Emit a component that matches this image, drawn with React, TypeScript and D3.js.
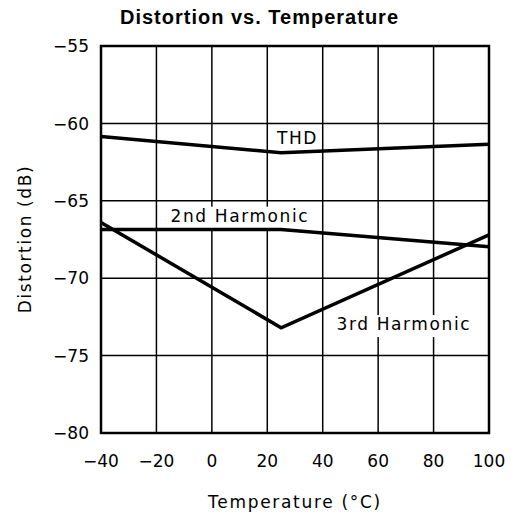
import React, { useEffect, useRef } from "react";
import * as d3 from "d3";

const temps = [-40, 25, 100];
const thd = [-60.85, -61.9, -61.35];
const harm2 = [-66.85, -66.85, -67.97];
const harm3 = [-66.4, -73.2, -67.2];

const xTicks = [-40, -20, 0, 20, 40, 60, 80, 100];
const yTicks = [-80, -75, -70, -65, -60, -55];

const labelTexts = ["THD", "2nd Harmonic", "3rd Harmonic"];
const labelTemps = [23.5, -14.9, 45.0];
const labelDb = [-61.33, -66.35, -73.35];
const labelBoxed = [false, true, true];

const W = 519;
const H = 520;
const M = { left: 101, right: 30, top: 46, bottom: 87 };

export default function App() {
  const ref = useRef<SVGSVGElement | null>(null);

  useEffect(() => {
    const svg = d3.select(ref.current);
    svg.selectAll("*").remove();

    const x = d3.scaleLinear().domain([-40, 100]).range([M.left, W - M.right]);
    const y = d3.scaleLinear().domain([-80, -55]).range([H - M.bottom, M.top]);
    const font = "'DejaVu Sans', sans-serif";

    svg.append("rect").attr("width", W).attr("height", H).attr("fill", "#fff");

    // title
    svg.append("text")
      .attr("x", W / 2)
      .attr("y", 23.5)
      .attr("text-anchor", "middle")
      .attr("font-family", "'Liberation Sans', Arial, sans-serif")
      .attr("font-weight", "bold")
      .attr("font-size", 20)
      .attr("letter-spacing", 1)
      .text("Distortion vs. Temperature");

    const g = svg.append("g");

    // grid
    g.selectAll("line.vx")
      .data(xTicks)
      .join("line")
      .attr("x1", (d) => x(d))
      .attr("x2", (d) => x(d))
      .attr("y1", y(-80))
      .attr("y2", y(-55))
      .attr("stroke", "#000")
      .attr("stroke-width", 1.5);
    g.selectAll("line.hy")
      .data(yTicks)
      .join("line")
      .attr("x1", x(-40))
      .attr("x2", x(100))
      .attr("y1", (d) => y(d))
      .attr("y2", (d) => y(d))
      .attr("stroke", "#000")
      .attr("stroke-width", 1.5);

    // tick labels
    const fmt = d3.format("d");
    svg.append("g")
      .selectAll("text")
      .data(xTicks)
      .join("text")
      .attr("x", (d) => x(d))
      .attr("y", 467)
      .attr("text-anchor", "middle")
      .attr("font-family", font)
      .attr("font-size", 17)
      .text((d) => fmt(d));
    svg.append("g")
      .selectAll("text")
      .data(yTicks)
      .join("text")
      .attr("x", 89)
      .attr("y", (d) => y(d))
      .attr("dy", "0.36em")
      .attr("text-anchor", "end")
      .attr("font-family", font)
      .attr("font-size", 17)
      .text((d) => fmt(d));

    // axis titles
    svg.append("text")
      .attr("x", (x(-40) + x(100)) / 2)
      .attr("y", 508)
      .attr("text-anchor", "middle")
      .attr("font-family", font)
      .attr("font-size", 17)
      .attr("letter-spacing", 1.7)
      .text("Temperature (°C)");
    svg.append("text")
      .attr("transform", `translate(31,239) rotate(-90)`)
      .attr("text-anchor", "middle")
      .attr("font-family", font)
      .attr("font-size", 17)
      .attr("letter-spacing", 1.6)
      .text("Distortion (dB)");

    // annotation labels with white boxes
    const labels = labelTexts.map((t, i) => ({ t, tx: labelTemps[i], db: labelDb[i], boxed: labelBoxed[i] }));
    const lg = g.append("g");
    labels.forEach((l) => {
      const bg = lg.append("rect").attr("fill", "#fff");
      const txt = lg.append("text")
        .attr("x", x(l.tx))
        .attr("y", y(l.db))
        .attr("font-family", font)
        .attr("font-size", 17)
        .attr("letter-spacing", 1.6)
        .text(l.t);
      if (l.boxed) {
        const bb = (txt.node() as SVGTextElement).getBBox();
        bg.attr("x", bb.x - 5)
          .attr("y", bb.y + 1)
          .attr("width", bb.width + 7)
          .attr("height", bb.height + 2);
      }
    });

    // data lines
    const line = d3.line<number>()
      .x((_, i) => x(temps[i]))
      .y((d) => y(d));
    [thd, harm2, harm3].forEach((s) => {
      g.append("path")
        .attr("d", line(s))
        .attr("fill", "none")
        .attr("stroke", "#000")
        .attr("stroke-width", 3.5)
        .attr("stroke-linejoin", "miter");
    });

    // border
    g.append("rect")
      .attr("x", x(-40))
      .attr("y", y(-55))
      .attr("width", x(100) - x(-40))
      .attr("height", y(-80) - y(-55))
      .attr("fill", "none")
      .attr("stroke", "#000")
      .attr("stroke-width", 2.5);
  }, []);

  return (
    <svg
      ref={ref}
      width={W}
      height={H}
      style={{ position: "absolute", left: 0, top: 0, display: "block" }}
    />
  );
}
